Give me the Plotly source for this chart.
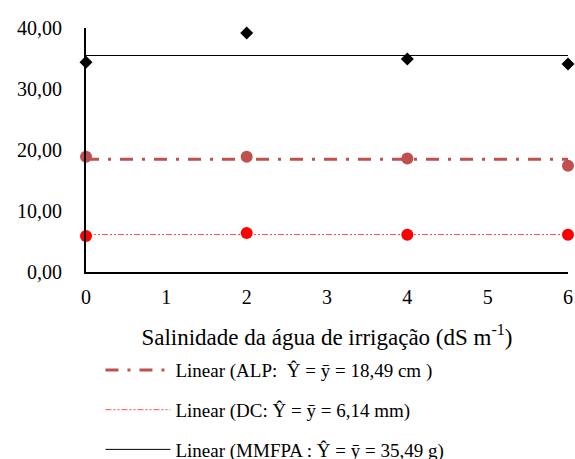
import plotly.graph_objects as go

salinity = [0, 2, 4, 6]
alp = [18.9, 18.9, 18.6, 17.4]
dc = [5.9, 6.4, 6.1, 6.1]
mmfpa = [34.4, 39.2, 34.9, 34.1]
alp_mean = 18.49
dc_mean = 6.14
mmfpa_mean = 35.49
y_ticks = [0, 10, 20, 30, 40]
x_ticks = [0, 1, 2, 3, 4, 5, 6]

FONT = "Liberation Serif, Times New Roman, serif"
fig = go.Figure()

# trend lines (legend entries)
fig.add_trace(go.Scatter(x=[salinity[0], salinity[-1]], y=[alp_mean, alp_mean], mode="lines",
                         line=dict(color="#C0504D", width=3, dash="13px,9px,3px,9px"),
                         name="Linear (ALP:  Ŷ = ȳ = 18,49 cm )", legendgroup="a", cliponaxis=False))
fig.add_trace(go.Scatter(x=[salinity[0], salinity[-1]], y=[dc_mean, dc_mean], mode="lines",
                         line=dict(color="#FF5050", width=1, dash="6px,2px,2px,2px,2px,2px"),
                         name="Linear (DC: Ŷ = ȳ = 6,14 mm)", legendgroup="b", cliponaxis=False))
fig.add_trace(go.Scatter(x=[salinity[0], salinity[-1]], y=[mmfpa_mean, mmfpa_mean], mode="lines",
                         line=dict(color="black", width=1),
                         name="Linear (MMFPA : Ŷ = ȳ = 35,49 g)", legendgroup="c", cliponaxis=False))

# points
fig.add_trace(go.Scatter(x=salinity, y=alp, mode="markers", showlegend=False, cliponaxis=False,
                         marker=dict(color="#C0504D", size=12, symbol="circle")))
fig.add_trace(go.Scatter(x=salinity, y=dc, mode="markers", showlegend=False, cliponaxis=False,
                         marker=dict(color="#FF0000", size=12, symbol="circle")))
fig.add_trace(go.Scatter(x=salinity, y=mmfpa, mode="markers", showlegend=False, cliponaxis=False,
                         marker=dict(color="black", size=10, symbol="diamond")))

fig.update_layout(
    width=575, height=459,
    margin=dict(l=86, r=7, t=28, b=187, autoexpand=False),
    plot_bgcolor="white", paper_bgcolor="white",
    separators=",.",
    font=dict(family=FONT, color="black", size=20),
    showlegend=True,
    legend=dict(x=0.03, y=0.235, xref="paper", yref="container", xanchor="left", yanchor="top",
                font=dict(family=FONT, size=19, color="black"),
                tracegroupgap=12, itemwidth=65, bgcolor="rgba(0,0,0,0)"),
    xaxis=dict(range=[0, 6], tickvals=x_ticks, showgrid=False, zeroline=False,
               showline=True, linecolor="black", linewidth=1.5,
               ticks="outside", ticklen=6, tickcolor="rgba(0,0,0,0)",
               tickfont=dict(family=FONT, size=20),
               title=dict(text="Salinidade da água de irrigação (dS m<sup>-1</sup>)",
                          font=dict(family=FONT, size=23), standoff=22)),
    yaxis=dict(range=[0, 40], tickvals=y_ticks, tickformat=".2f", showgrid=False, zeroline=False,
               showline=True, linecolor="black", linewidth=2,
               ticks="outside", ticklen=18, tickcolor="rgba(0,0,0,0)",
               tickfont=dict(family=FONT, size=20)),
)

fig.write_html("out.html", config={"displayModeBar": False},
               post_script="document.body.style.margin='0';")
